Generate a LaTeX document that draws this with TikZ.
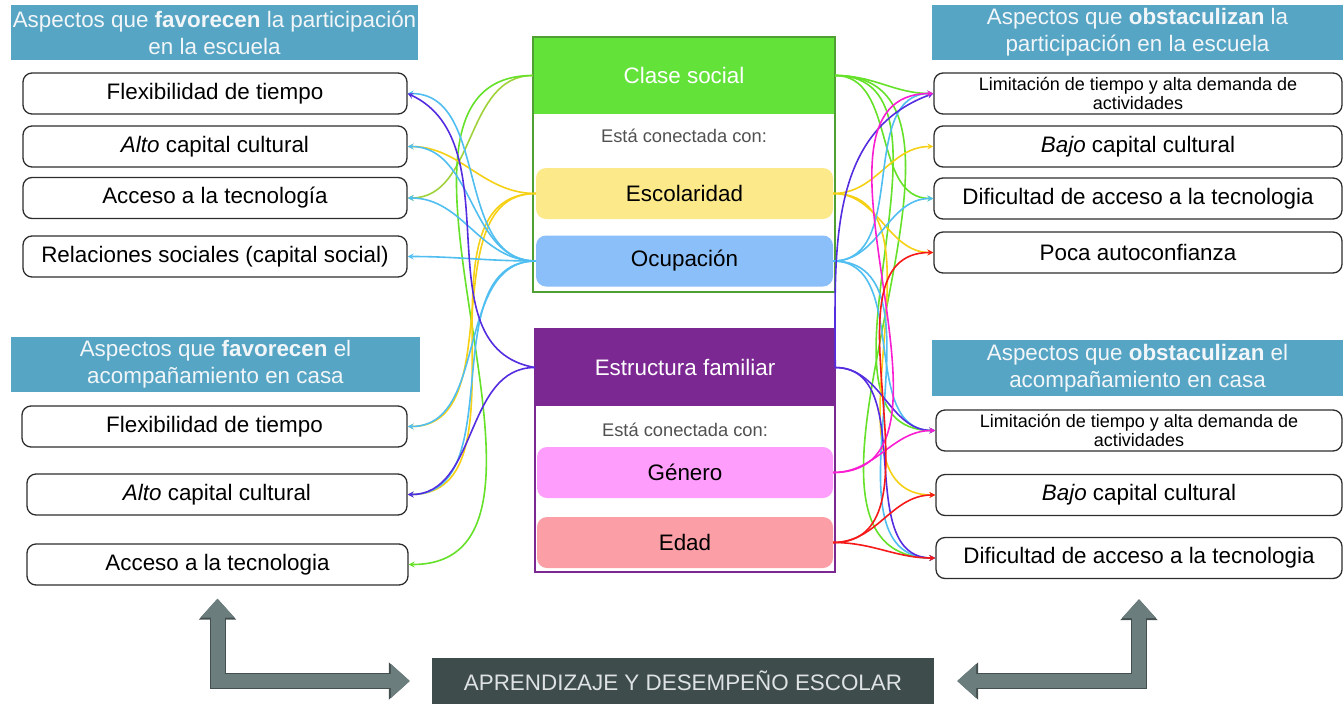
\documentclass[tikz,border=0pt]{standalone}
\usepackage{fontspec}
\setmainfont{Liberation Sans}
\usetikzlibrary{arrows.meta}
\definecolor{cabeza}{RGB}{86,165,196}
\definecolor{cabtexto}{RGB}{242,246,249}
\definecolor{borde}{RGB}{45,45,45}
\definecolor{verdecab}{RGB}{99,226,58}
\definecolor{verdemarco}{RGB}{78,160,50}
\definecolor{amarillo}{RGB}{252,233,138}
\definecolor{azulcaja}{RGB}{139,191,249}
\definecolor{morado}{RGB}{124,40,146}
\definecolor{rosa}{RGB}{254,157,252}
\definecolor{salmon}{RGB}{252,158,166}
\definecolor{grisconex}{RGB}{80,80,80}
\definecolor{aprfondo}{RGB}{62,76,76}
\definecolor{aprtexto}{RGB}{222,226,226}
\definecolor{flechagris}{RGB}{108,125,125}
\definecolor{flechaborde}{RGB}{68,80,80}
\definecolor{lverde}{RGB}{100,225,40}
\definecolor{lverdeclaro}{RGB}{160,210,60}
\definecolor{lamarillo}{RGB}{245,208,20}
\definecolor{lcian}{RGB}{80,190,240}
\definecolor{lvioleta}{RGB}{85,45,225}
\definecolor{lmagenta}{RGB}{250,30,210}
\definecolor{lrojo}{RGB}{245,25,25}

\begin{document}
\begin{tikzpicture}[>=stealth, x=1pt, y=-1pt,
  txt/.style={font=\fontsize{22.4}{27}\selectfont},
  cab/.style={txt, fill=cabeza, text=cabtexto, align=center, inner sep=0pt},
  caja/.style={txt, draw=borde, line width=1.3pt, rounded corners=9pt, minimum height=41pt, inner sep=0pt, align=center},
  chica/.style={font=\fontsize{18}{18.5}\selectfont},
  cabc/.style={txt, text=white, minimum width=302pt, minimum height=77pt, inner sep=0pt},
  sub/.style={txt, rounded corners=10pt, minimum width=297pt, minimum height=51pt, inner sep=0pt},
  con/.style={font=\fontsize{18.3}{20}\selectfont, text=grisconex},
  lin/.style={->, line width=1.6pt},
  flecha/.style={draw=flechagris, line width=14pt, {Triangle[width=33pt,length=19pt]}-{Triangle[width=33pt,length=19pt]},
    preaction={draw=flechaborde, line width=16pt, {Triangle[width=36pt,length=21pt]}-{Triangle[width=36pt,length=21pt]}}}]
\useasboundingbox (0,0) rectangle (1343,707);

\node[cab, minimum width=407pt, minimum height=55pt] (hFavEsc) at (214.5,32.5) {Aspectos que \textbf{favorecen} la participación\\en la escuela};
\node[caja, minimum width=384pt] (fe1) at (215,93.5) {Flexibilidad de tiempo};
\node[caja, minimum width=384pt] (fe2) at (215,146.5) {\textit{Alto} capital cultural};
\node[caja, minimum width=384pt] (fe3) at (215,198) {Acceso a la tecnología};
\node[caja, minimum width=384pt] (fe4) at (215,256.5) {Relaciones sociales (capital social)};

\node[cab, minimum width=409pt, minimum height=55pt] (hFavCasa) at (215.5,364.5) {Aspectos que \textbf{favorecen} el\\acompañamiento en casa};
\node[caja, minimum width=385pt] (fc1) at (214.5,426.5) {Flexibilidad de tiempo};
\node[caja, minimum width=380pt] (fc2) at (217,494.5) {\textit{Alto} capital cultural};
\node[caja, minimum width=381pt] (fc3) at (217.5,564.5) {Acceso a la tecnologia};

\node[cab, minimum width=411pt, minimum height=55pt] (hObsEsc) at (1137.5,32.5) {Aspectos que \textbf{obstaculizan} la\\participación en la escuela};
\node[caja, chica, minimum width=408pt] (oe1) at (1138,93.5) {Limitación de tiempo y alta demanda de\\actividades};
\node[caja, minimum width=408pt] (oe2) at (1138,146.5) {\textit{Bajo} capital cultural};
\node[caja, minimum width=408pt] (oe3) at (1138,198.5) {Dificultad de acceso a la tecnologia};
\node[caja, minimum width=408pt] (oe4) at (1138,252.5) {Poca autoconfianza};

\node[cab, minimum width=411pt, minimum height=56pt] (hObsCasa) at (1137.5,368) {Aspectos que \textbf{obstaculizan} el\\acompañamiento en casa};
\node[caja, chica, minimum width=406pt] (oc1) at (1139,430.5) {Limitación de tiempo y alta demanda de\\actividades};
\node[caja, minimum width=406pt] (oc2) at (1139,495) {\textit{Bajo} capital cultural};
\node[caja, minimum width=406pt] (oc3) at (1139,558) {Dificultad de acceso a la tecnologia};

\node[cabc, fill=verdecab] (clase) at (684,75.5) {Clase social};
\node[con] (con1) at (684,136) {Está conectada con:};
\node[sub, fill=amarillo] (esco) at (684.5,193.5) {Escolaridad};
\node[sub, fill=azulcaja] (ocup) at (684.5,261) {Ocupación};
\node[draw=verdemarco, line width=2pt, minimum width=302pt, minimum height=255pt] (marco1) at (684,164.5) {};

\node[cabc, fill=morado, minimum width=300pt] (estr) at (685,367.5) {Estructura familiar};
\node[con] (con2) at (685,430) {Está conectada con:};
\node[sub, fill=rosa, minimum width=296pt] (gen) at (685,472.5) {Género};
\node[sub, fill=salmon, minimum width=296pt] (edad) at (685,542.5) {Edad};
\node[draw=morado, line width=2pt, minimum width=300pt, minimum height=243pt] (marco2) at (685,450.5) {};

\node[txt, fill=aprfondo, text=aprtexto, minimum width=502pt, minimum height=46pt, inner sep=0pt] (apr) at (683,681) {APRENDIZAJE Y DESEMPEÑO ESCOLAR};

\draw[flecha, shorten <=13pt, shorten >=22pt] (fc3.south) |- (apr.west);
\draw[flecha, shorten <=20pt, shorten >=23pt] (oc3.south) |- (apr.east);

\draw[lin, lverdeclaro] (clase.west) to[out=180,in=0] (fe3.east);
\draw[lin, lverde] (clase.west) to[out=180,in=0] (fc3.east);
\draw[lin, lamarillo] (esco.west) to[out=180,in=0] (fe2.east);
\draw[lin, lamarillo] (esco.west) to[out=180,in=0] (fc1.east);
\draw[lin, lamarillo] (esco.west) to[out=180,in=0] (fc2.east);
\draw[lin, lcian] (ocup.west) to[out=180,in=0] (fe1.east);
\draw[lin, lcian] (ocup.west) to[out=180,in=0] (fe2.east);
\draw[lin, lcian] (ocup.west) to[out=180,in=0] (fe3.east);
\draw[lin, lcian] (ocup.west) to[out=180,in=0] (fe4.east);
\draw[lin, lcian] (ocup.west) to[out=180,in=0] (fc1.east);
\draw[lin, lcian] (ocup.west) to[out=180,in=0] (fc2.east);
\draw[lin, lvioleta] (estr.west) to[out=170,in=-25] (fe1.east);
\draw[lin, lvioleta] (estr.west) to[out=180,in=0] (fc2.east);

\draw[lin, lverde] (clase.east) to[out=0,in=180] (oe1.west);
\draw[lin, lverde] (clase.east) to[out=0,in=180] (oe3.west);
\draw[lin, lverde] (clase.east) to[out=0,in=180] (oc1.west);
\draw[lin, lverde] (clase.east) to[out=0,in=180] (oc3.west);
\draw[lin, lamarillo] (esco.east) to[out=0,in=180] (oe2.west);
\draw[lin, lamarillo] (esco.east) to[out=0,in=180] (oe4.west);
\draw[lin, lamarillo] (esco.east) to[out=0,in=180] (oc2.west);
\draw[lin, lcian] (ocup.east) to[out=0,in=180] (oe1.west);
\draw[lin, lcian] (ocup.east) to[out=0,in=180] (oe3.west);
\draw[lin, lcian] (ocup.east) to[out=0,in=180] (oc1.west);
\draw[lin, lcian] (ocup.east) to[out=0,in=180] (oc3.west);
\draw[lin, lvioleta] (estr.east) to[out=90,in=200] (oe1.west);
\draw[lin, lvioleta] (estr.east) to[out=0,in=180] (oc1.west);
\draw[lin, lvioleta] (estr.east) to[out=0,in=180] (oc3.west);
\draw[lin, lmagenta] (gen.east) to[out=0,in=180] (oe1.west);
\draw[lin, lmagenta] (gen.east) to[out=0,in=180] (oc1.west);
\draw[lin, lrojo] (edad.east) to[out=0,in=180] (oe4.west);
\draw[lin, lrojo] (edad.east) to[out=0,in=180] (oc2.west);
\draw[lin, lrojo] (edad.east) to[out=0,in=180] (oc3.west);
\end{tikzpicture}
\end{document}
